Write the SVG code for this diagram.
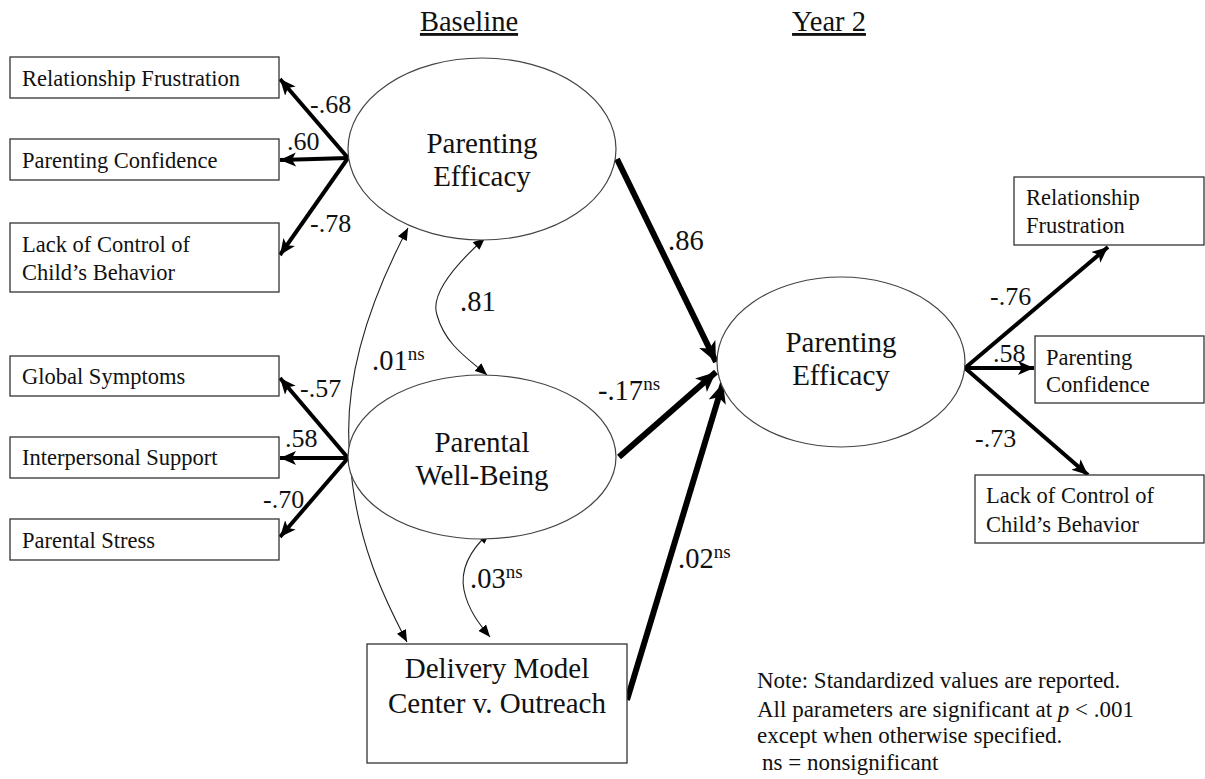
<svg xmlns="http://www.w3.org/2000/svg" width="1205" height="779" viewBox="0 0 1205 779" font-family="'Liberation Serif','Times New Roman',serif">
<style>
text{font-family:"Liberation Serif","Times New Roman",serif;fill:#111}
.box{fill:#fff;stroke:#333;stroke-width:1.3}
.ell{fill:#fff;stroke:#444;stroke-width:1.2}
.bl{font-size:22.5px}
.nl{font-size:29px;text-anchor:middle}
.el{font-size:26px}
.em{font-size:28.5px}
.sup{font-size:19px}
.note{font-size:23px}
.hd{font-size:28.5px;text-decoration:underline}
.ld{stroke:#000;stroke-width:4;fill:none;marker-end:url(#ah)}
.st{stroke:#000;stroke-width:6;fill:none;marker-end:url(#ahb)}
.cv{stroke:#222;stroke-width:1.1;fill:none;marker-start:url(#as);marker-end:url(#ae)}
</style>
<defs>
<marker id="ah" markerUnits="userSpaceOnUse" markerWidth="20" markerHeight="16" refX="16" refY="8" orient="auto"><path d="M0,1 L16,8 L0,15 L4,8 Z" fill="#000"/></marker>
<marker id="ahb" markerUnits="userSpaceOnUse" markerWidth="24" markerHeight="20" refX="20" refY="10" orient="auto"><path d="M0,1 L20,10 L0,19 L5,10 Z" fill="#000"/></marker>
<marker id="ae" markerUnits="userSpaceOnUse" markerWidth="14" markerHeight="10" refX="12" refY="5" orient="auto"><path d="M0,0 L12,5 L0,10 Z" fill="#000"/></marker>
<marker id="as" markerUnits="userSpaceOnUse" markerWidth="14" markerHeight="10" refX="0" refY="5" orient="auto"><path d="M12,0 L0,5 L12,10 Z" fill="#000"/></marker>
</defs>

<text class="hd" x="469" y="31" text-anchor="middle">Baseline</text>
<text class="hd" x="829" y="31" text-anchor="middle">Year 2</text>

<g id="connectors">
<line class="ld" x1="348" y1="158" x2="280" y2="79"/>
<line class="ld" x1="348" y1="158" x2="280" y2="160"/>
<line class="ld" x1="348" y1="158" x2="280" y2="255"/>
<line class="ld" x1="348" y1="458" x2="280" y2="378"/>
<line class="ld" x1="348" y1="458" x2="280" y2="458"/>
<line class="ld" x1="348" y1="458" x2="280" y2="537"/>
<line class="ld" x1="965" y1="368" x2="1108" y2="247"/>
<line class="ld" x1="965" y1="368" x2="1034" y2="368"/>
<line class="ld" x1="965" y1="368" x2="1088" y2="475"/>
<line class="st" x1="617" y1="159" x2="716" y2="362"/>
<line class="st" x1="619" y1="457" x2="716" y2="372"/>
<line class="st" x1="627" y1="700" x2="723" y2="383"/>
<path class="cv" d="M408,228 C370,300 342,380 350,458 C355,540 385,600 407,642"/>
<path class="cv" d="M485,238 C455,265 430,295 437,315 C445,345 470,360 487,375"/>
<path class="cv" d="M490,532 C470,550 460,570 464,590 C468,610 480,625 490,637"/>
</g>

<g id="pe-baseline"><ellipse class="ell" cx="482" cy="149" rx="134" ry="91"/>
<text class="nl" x="482" y="153">Parenting</text><text class="nl" x="482" y="186">Efficacy</text></g>
<g id="pwb"><ellipse class="ell" cx="482" cy="457" rx="134" ry="82"/>
<text class="nl" x="482" y="452">Parental</text><text class="nl" x="482" y="485">Well-Being</text></g>
<g id="pe-year2"><ellipse class="ell" cx="841" cy="362" rx="124" ry="85"/>
<text class="nl" x="841" y="352">Parenting</text><text class="nl" x="841" y="385">Efficacy</text></g>
<g id="delivery"><rect class="box" x="367" y="644" width="260" height="119"/>
<text class="nl" x="497" y="678">Delivery Model</text><text class="nl" x="497" y="713">Center v. Outreach</text></g>

<g id="b-rf"><rect class="box" x="10" y="57" width="269" height="41"/><text class="bl" x="22" y="86">Relationship Frustration</text></g>
<g id="b-pc"><rect class="box" x="10" y="139" width="269" height="41"/><text class="bl" x="22" y="168">Parenting Confidence</text></g>
<g id="b-lc"><rect class="box" x="10" y="223" width="269" height="69"/><text class="bl" x="22" y="252">Lack of Control of</text><text class="bl" x="22" y="280">Child’s Behavior</text></g>
<g id="b-gs"><rect class="box" x="10" y="356" width="269" height="40"/><text class="bl" x="22" y="384">Global Symptoms</text></g>
<g id="b-is"><rect class="box" x="10" y="437" width="269" height="41"/><text class="bl" x="22" y="465">Interpersonal Support</text></g>
<g id="b-ps"><rect class="box" x="10" y="519" width="269" height="41"/><text class="bl" x="22" y="548">Parental Stress</text></g>

<g id="y2-rf"><rect class="box" x="1014" y="177" width="190" height="68"/><text class="bl" x="1026" y="205">Relationship</text><text class="bl" x="1026" y="233">Frustration</text></g>
<g id="y2-pc"><rect class="box" x="1035" y="336" width="169" height="67"/><text class="bl" x="1046" y="365">Parenting</text><text class="bl" x="1046" y="392">Confidence</text></g>
<g id="y2-lc"><rect class="box" x="975" y="475" width="229" height="68"/><text class="bl" x="986" y="503">Lack of Control of</text><text class="bl" x="986" y="532">Child’s Behavior</text></g>

<g id="labels">
<text class="el" x="310" y="113">-.68</text>
<text class="el" x="287" y="150">.60</text>
<text class="el" x="310" y="232">-.78</text>
<text class="el" x="300" y="397">-.57</text>
<text class="el" x="285" y="447">.58</text>
<text class="el" x="263" y="508">-.70</text>
<text class="em" x="460" y="311">.81</text>
<text class="em" x="372" y="370">.01<tspan class="sup" dy="-10">ns</tspan></text>
<text class="em" x="668" y="250">.86</text>
<text class="em" x="598" y="400">-.17<tspan class="sup" dy="-10">ns</tspan></text>
<text class="em" x="470" y="588">.03<tspan class="sup" dy="-10">ns</tspan></text>
<text class="em" x="678" y="568">.02<tspan class="sup" dy="-10">ns</tspan></text>
<text class="el" x="990" y="305">-.76</text>
<text class="el" x="993" y="362">.58</text>
<text class="el" x="975" y="447">-.73</text>
</g>

<g id="note">
<text class="note" x="757" y="688">Note: Standardized values are reported.</text>
<text class="note" x="757" y="717">All parameters are significant at <tspan font-style="italic">p</tspan> &lt; .001</text>
<text class="note" x="757" y="743">except when otherwise specified.</text>
<text class="note" x="762" y="770">ns = nonsignificant</text>
</g>
</svg>
